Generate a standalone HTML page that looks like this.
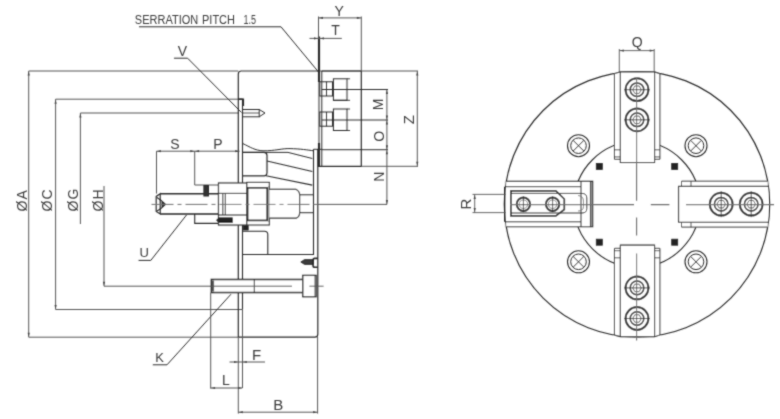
<!DOCTYPE html>
<html><head><meta charset="utf-8">
<style>
html,body{margin:0;padding:0;background:#fff;width:780px;height:419px;overflow:hidden}
svg{display:block} .wrap{width:780px;height:419px}
text{font-family:"Liberation Sans",sans-serif}
</style></head><body><div class="wrap">
<svg width="780" height="419" viewBox="0 0 780 419">
<defs><filter id="bl" x="0" y="0" width="780" height="419" filterUnits="userSpaceOnUse"><feConvolveMatrix order="3" kernelMatrix="0.03 0.1 0.03 0.1 0.48 0.1 0.03 0.1 0.03" edgeMode="none" preserveAlpha="false"/></filter></defs>
<g filter="url(#bl)">
<path d="M28.7,337.2 V71 H238.3" stroke="#555" stroke-width="1" fill="none" />
<path d="M28.7,337.2 H238.3" stroke="#555" stroke-width="1" fill="none" />
<path d="M55.6,309.5 V99.2 H242.5" stroke="#555" stroke-width="1" fill="none" />
<path d="M55.6,309.5 H242.5" stroke="#555" stroke-width="1" fill="none" />
<path d="M80.4,224 V113 H238.3" stroke="#555" stroke-width="1" fill="none" />
<path d="M104,186 V286.2 H292" stroke="#555" stroke-width="1" fill="none" />
<text transform="translate(26.8,211.5) rotate(-90)" font-size="14" fill="#3a3a3a" letter-spacing="1">ØA</text>
<text transform="translate(52.2,211.5) rotate(-90)" font-size="14" fill="#3a3a3a" letter-spacing="1">ØC</text>
<text transform="translate(77.9,211.5) rotate(-90)" font-size="14" fill="#3a3a3a" letter-spacing="1">ØG</text>
<text transform="translate(103.2,211.5) rotate(-90)" font-size="14" fill="#3a3a3a" letter-spacing="1">ØH</text>
<text x="134.8" y="24.0" font-size="13.4" fill="#3a3a3a" textLength="63.5" lengthAdjust="spacingAndGlyphs">SERRATION</text>
<text x="202" y="24.0" font-size="13.4" fill="#3a3a3a" textLength="33" lengthAdjust="spacingAndGlyphs">PITCH</text>
<text x="243.5" y="24.0" font-size="13.4" fill="#3a3a3a" textLength="12.5" lengthAdjust="spacingAndGlyphs">1.5</text>
<path d="M139,26.8 H281 L318.5,72" stroke="#2a2a2a" stroke-width="1" fill="none" />
<text x="177.8" y="55.8" font-size="14" fill="#3a3a3a" >V</text>
<path d="M174,58.2 H187.6 L241.5,112.5" stroke="#2a2a2a" stroke-width="1" fill="none" />
<text x="139.5" y="256.5" font-size="13" fill="#3a3a3a" >U</text>
<path d="M138.6,260.4 H150.8 L186.5,215" stroke="#2a2a2a" stroke-width="1" fill="none" />
<text x="155.2" y="362.2" font-size="13" fill="#3a3a3a" >K</text>
<path d="M152.8,364.8 H167 L231,294.2" stroke="#2a2a2a" stroke-width="1" fill="none" />
<path d="M238.3,337.2 V74 Q238.3,71 241.3,71 H318.5" stroke="#2a2a2a" stroke-width="1.2" fill="none" />
<path d="M318.5,71 H418" stroke="#555" stroke-width="1" fill="none" />
<path d="M238.3,337.2 H314.8 Q317.8,337.2 317.8,334.2 V149" stroke="#2a2a2a" stroke-width="1.2" fill="none" />
<path d="M238.3,99.2 H242.5 V309.5" stroke="#2a2a2a" stroke-width="1.1" fill="none" />
<path d="M313.5,149.3 V254.5 H242.5" stroke="#2a2a2a" stroke-width="1.1" fill="none" />
<path d="M313.5,149.3 H321.8" stroke="#2a2a2a" stroke-width="1.0" fill="none" />
<line x1="319" y1="36.5" x2="319" y2="82" stroke="#2a2a2a" stroke-width="2.2" />
<line x1="319" y1="143" x2="319" y2="167" stroke="#2a2a2a" stroke-width="2.2" />
<line x1="321.8" y1="71" x2="321.8" y2="166.3" stroke="#2a2a2a" stroke-width="1.0" />
<line x1="319" y1="82" x2="319" y2="143" stroke="#2a2a2a" stroke-width="1.0" />
<path d="M321.8,71 H361.3 V166.3 H320" stroke="#2a2a2a" stroke-width="1.2" fill="none" />
<path d="M361.3,166.3 H418" stroke="#555" stroke-width="1" fill="none" />
<line x1="321.8" y1="89.5" x2="388" y2="89.5" stroke="#2a2a2a" stroke-width="1" />
<line x1="321.8" y1="120" x2="388" y2="120" stroke="#2a2a2a" stroke-width="1" />
<line x1="321.8" y1="149.7" x2="388" y2="149.7" stroke="#2a2a2a" stroke-width="1" />
<rect x="319.8" y="81.8" width="12.7" height="14.2" rx="0" stroke="#2a2a2a" stroke-width="1" fill="none"/>
<line x1="326.5" y1="81.8" x2="326.5" y2="96" stroke="#2a2a2a" stroke-width="0.9" />
<rect x="333.4" y="78.8" width="13.6" height="21.5" rx="0" stroke="#2a2a2a" stroke-width="1" fill="none"/>
<line x1="347" y1="78.8" x2="350" y2="78.8" stroke="#2a2a2a" stroke-width="0.9" />
<line x1="333.4" y1="100.3" x2="350" y2="100.3" stroke="#2a2a2a" stroke-width="0.9" />
<rect x="319.8" y="112.0" width="12.7" height="14.2" rx="0" stroke="#2a2a2a" stroke-width="1" fill="none"/>
<line x1="326.5" y1="112.0" x2="326.5" y2="126.2" stroke="#2a2a2a" stroke-width="0.9" />
<rect x="333.4" y="109.0" width="13.6" height="21.5" rx="0" stroke="#2a2a2a" stroke-width="1" fill="none"/>
<line x1="347" y1="109.0" x2="350" y2="109.0" stroke="#2a2a2a" stroke-width="0.9" />
<line x1="333.4" y1="130.5" x2="350" y2="130.5" stroke="#2a2a2a" stroke-width="0.9" />
<line x1="318.5" y1="16.5" x2="318.5" y2="38.5" stroke="#555" stroke-width="1" />
<line x1="361.3" y1="16.5" x2="361.3" y2="71" stroke="#555" stroke-width="1" />
<line x1="318.5" y1="17.9" x2="361.3" y2="17.9" stroke="#555" stroke-width="1" />
<text x="334.4" y="15.5" font-size="14" fill="#3a3a3a" >Y</text>
<line x1="309.5" y1="38.4" x2="341.8" y2="38.4" stroke="#555" stroke-width="1" />
<text x="331.2" y="35.3" font-size="14" fill="#3a3a3a" >T</text>
<line x1="417.3" y1="71" x2="417.3" y2="166.3" stroke="#555" stroke-width="1" />
<text transform="translate(414.3,124.3) rotate(-90)" font-size="15" fill="#3a3a3a" >Z</text>
<line x1="386.9" y1="89.5" x2="386.9" y2="204.4" stroke="#555" stroke-width="1" />
<text transform="translate(383,110.3) rotate(-90)" font-size="14" fill="#3a3a3a" >M</text>
<text transform="translate(384,141.8) rotate(-90)" font-size="14" fill="#3a3a3a" >O</text>
<text transform="translate(384,181.8) rotate(-90)" font-size="14" fill="#3a3a3a" >N</text>
<line x1="318" y1="204.4" x2="387" y2="204.4" stroke="#555" stroke-width="1" />
<line x1="156.5" y1="151.2" x2="239.6" y2="151.2" stroke="#555" stroke-width="1" />
<line x1="156.5" y1="151.2" x2="156.5" y2="193.6" stroke="#555" stroke-width="1" />
<path d="M194.7,151.2 V185 H218.8" stroke="#555" stroke-width="1" fill="none" />
<text x="170.3" y="148.6" font-size="14" fill="#3a3a3a" >S</text>
<text x="213.3" y="148.6" font-size="14" fill="#3a3a3a" >P</text>
<path d="M242.9,143.6 C250,147 255,150.5 263,150.8 C275,151 282,148.3 290,148.6 C300,148.8 308,150 313.5,150.8" stroke="#2a2a2a" stroke-width="1" fill="none" />
<path d="M242.5,152.4 H288 L312.3,158.5" stroke="#2a2a2a" stroke-width="1" fill="none" />
<path d="M242.5,152.4 H264 Q267,152.4 267,155.5 V172.5 Q267,175.8 264,175.8 H242.5" stroke="#2a2a2a" stroke-width="1.2" fill="none" />
<line x1="267" y1="161" x2="312.3" y2="171.5" stroke="#2a2a2a" stroke-width="1.1" />
<line x1="266" y1="175.8" x2="312.3" y2="185.1" stroke="#2a2a2a" stroke-width="1.1" />
<path d="M242.5,231.2 H264.5 Q267.8,231.2 267.8,234.5 V254.5" stroke="#2a2a2a" stroke-width="1.1" fill="none" />
<path d="M160.2,193.7 H219.5 M160.2,214 H219.5" stroke="#2a2a2a" stroke-width="1.5" fill="none" />
<path d="M160.2,193.7 L156.2,196.4 V211.5 L160.2,214 Z" stroke="#2a2a2a" stroke-width="1.2" fill="none" />
<path d="M157,197.5 Q161,200 165.5,204.4 Q161,209 157,211" stroke="#2a2a2a" stroke-width="1.1" fill="none" />
<path d="M162,202 L165,204.4 L162,206.8 Z" stroke="#2a2a2a" stroke-width="1" fill="#222"/>
<path d="M194.7,214 V223.4 H218.5" stroke="#2a2a2a" stroke-width="1.1" fill="none" />
<rect x="203.9" y="185.5" width="4.6" height="10.5" rx="0" stroke="#2a2a2a" stroke-width="1" fill="#333"/>
<rect x="218.5" y="183" width="28.3" height="42" rx="0" stroke="#2a2a2a" stroke-width="1.2" fill="#fff"/>
<line x1="218.5" y1="193.4" x2="246.8" y2="193.4" stroke="#2a2a2a" stroke-width="1.1" />
<line x1="218.5" y1="215" x2="246.8" y2="215" stroke="#2a2a2a" stroke-width="1.1" />
<line x1="222.8" y1="193.4" x2="222.8" y2="215" stroke="#2a2a2a" stroke-width="1" />
<line x1="225.3" y1="193.4" x2="225.3" y2="215" stroke="#2a2a2a" stroke-width="1" />
<rect x="246.8" y="182.4" width="22.5" height="42.6" rx="0" stroke="#2a2a2a" stroke-width="1.1" fill="#fff"/>
<rect x="247.6" y="187.8" width="19.6" height="32.6" rx="0" stroke="#2a2a2a" stroke-width="1.7" fill="none"/>
<line x1="268.5" y1="186" x2="268.5" y2="222" stroke="#999" stroke-width="1.0" />
<rect x="243.2" y="225.5" width="5" height="4.5" rx="0" stroke="#2a2a2a" stroke-width="0.8" fill="#222"/>
<path d="M216.6,220.2 L219,217.8 H232.4 V222.5 H219 Z" stroke="#2a2a2a" stroke-width="1" fill="#222"/>
<path d="M269.3,189.4 H296 Q299.6,191 299.6,195 V212.5 Q299.6,217 296,218.1 H269.3" stroke="#2a2a2a" stroke-width="1.1" fill="#fff"/>
<path d="M299.6,194.8 H313.5 M299.6,212.7 H313.5" stroke="#2a2a2a" stroke-width="1" fill="none" />
<line x1="151.5" y1="204.4" x2="318" y2="204.4" stroke="#707070" stroke-width="1.0" stroke-dasharray="22,4,4,4"/>
<path d="M300.8,262 L304.5,259.6 H313.3 V264.4 H304.5 Z" stroke="#2a2a2a" stroke-width="0.8" fill="#3a3a3a"/>
<path d="M317.8,258.4 H314.8 Q313,258.4 313,260.5 V265.2 Q313,267.3 314.8,267.3 H317.8" stroke="#2a2a2a" stroke-width="1.6" fill="none" />
<rect x="211.4" y="279.5" width="91.4" height="13" rx="0" stroke="#2a2a2a" stroke-width="1.5" fill="#fff"/>
<line x1="213" y1="280.5" x2="213" y2="291.5" stroke="#555" stroke-width="2.2" />
<line x1="254.3" y1="279.7" x2="254.3" y2="292.6" stroke="#2a2a2a" stroke-width="1" />
<rect x="302.8" y="275.4" width="13.3" height="21.3" rx="0" stroke="#2a2a2a" stroke-width="1.3" fill="#fff"/>
<line x1="315" y1="276" x2="315" y2="296" stroke="#2a2a2a" stroke-width="0.8" />
<line x1="211" y1="286.2" x2="292" y2="286.2" stroke="#555" stroke-width="1" />
<line x1="309.4" y1="286.2" x2="323.6" y2="286.2" stroke="#555" stroke-width="0.9" />
<line x1="242.5" y1="309.5" x2="242.5" y2="388" stroke="#555" stroke-width="1" />
<line x1="238.3" y1="337" x2="238.3" y2="413.6" stroke="#555" stroke-width="1" />
<line x1="317.6" y1="337" x2="317.6" y2="413.6" stroke="#555" stroke-width="1" />
<line x1="229.5" y1="362" x2="265" y2="362" stroke="#555" stroke-width="1" />
<text x="252" y="359.8" font-size="15" fill="#3a3a3a" >F</text>
<line x1="210.7" y1="292.6" x2="210.7" y2="388.6" stroke="#555" stroke-width="1" />
<line x1="210.7" y1="388" x2="242.3" y2="388" stroke="#555" stroke-width="1" />
<text x="222" y="385.4" font-size="14" fill="#3a3a3a" >L</text>
<line x1="238.3" y1="412.2" x2="317.6" y2="412.2" stroke="#555" stroke-width="1" />
<text x="273.2" y="410.4" font-size="15" fill="#3a3a3a" >B</text>
<path d="M238.3,99.2 H243.5 V106" stroke="#2a2a2a" stroke-width="1.2" fill="none" />
<rect x="242.5" y="109.5" width="16.7" height="7.3" rx="0" stroke="#2a2a2a" stroke-width="1" fill="none"/>
<line x1="242.5" y1="113" x2="259" y2="113" stroke="#2a2a2a" stroke-width="0.8" />
<path d="M259.2,109.5 L265,113 L259.2,116.8" stroke="#2a2a2a" stroke-width="1" fill="none" />
<circle cx="637.0" cy="204.3" r="132.7" stroke="#2a2a2a" stroke-width="1.2" fill="none"/>
<circle cx="637.0" cy="204.3" r="63" stroke="#2a2a2a" stroke-width="1.1" fill="none"/>
<rect x="596.3" y="163.4" width="6" height="6" rx="0" stroke="#2a2a2a" stroke-width="0.8" fill="#222"/>
<rect x="596.3" y="239.20000000000002" width="6" height="6" rx="0" stroke="#2a2a2a" stroke-width="0.8" fill="#222"/>
<rect x="671.7" y="163.4" width="6" height="6" rx="0" stroke="#2a2a2a" stroke-width="0.8" fill="#222"/>
<rect x="671.7" y="239.20000000000002" width="6" height="6" rx="0" stroke="#2a2a2a" stroke-width="0.8" fill="#222"/>
<circle cx="578.5" cy="145.70000000000002" r="11" stroke="#2a2a2a" stroke-width="1.1" fill="none"/>
<circle cx="578.5" cy="145.70000000000002" r="7.8" stroke="#2a2a2a" stroke-width="1.0" fill="none"/>
<line x1="573.2" y1="140.4" x2="583.8" y2="151.00000000000003" stroke="#2a2a2a" stroke-width="0.9" />
<line x1="573.2" y1="151.00000000000003" x2="583.8" y2="140.4" stroke="#2a2a2a" stroke-width="0.9" />
<circle cx="578.5" cy="261.8" r="11" stroke="#2a2a2a" stroke-width="1.1" fill="none"/>
<circle cx="578.5" cy="261.8" r="7.8" stroke="#2a2a2a" stroke-width="1.0" fill="none"/>
<line x1="573.2" y1="256.5" x2="583.8" y2="267.1" stroke="#2a2a2a" stroke-width="0.9" />
<line x1="573.2" y1="267.1" x2="583.8" y2="256.5" stroke="#2a2a2a" stroke-width="0.9" />
<circle cx="696.0" cy="145.70000000000002" r="11" stroke="#2a2a2a" stroke-width="1.1" fill="none"/>
<circle cx="696.0" cy="145.70000000000002" r="7.8" stroke="#2a2a2a" stroke-width="1.0" fill="none"/>
<line x1="690.7" y1="140.4" x2="701.3" y2="151.00000000000003" stroke="#2a2a2a" stroke-width="0.9" />
<line x1="690.7" y1="151.00000000000003" x2="701.3" y2="140.4" stroke="#2a2a2a" stroke-width="0.9" />
<circle cx="696.0" cy="261.8" r="11" stroke="#2a2a2a" stroke-width="1.1" fill="none"/>
<circle cx="696.0" cy="261.8" r="7.8" stroke="#2a2a2a" stroke-width="1.0" fill="none"/>
<line x1="690.7" y1="256.5" x2="701.3" y2="267.1" stroke="#2a2a2a" stroke-width="0.9" />
<line x1="690.7" y1="267.1" x2="701.3" y2="256.5" stroke="#2a2a2a" stroke-width="0.9" />
<rect x="614.5" y="71.60000000000002" width="45.39999999999998" height="90.89999999999998" fill="#fff" stroke="none"/>
<path d="M614.5,73.52140847982804 V159.3 H620.3" stroke="#2a2a2a" stroke-width="1.0" fill="none" />
<path d="M659.9,73.5908572440321 V159.3 H654.6" stroke="#2a2a2a" stroke-width="1.0" fill="none" />
<path d="M620.3,71.9 V162.5 H654.6 V71.9" stroke="#2a2a2a" stroke-width="1.1" fill="none" />
<path d="M614.5,73.52140847982804 L620.3,71.9 H654.6 L659.9,73.5908572440321" stroke="#2a2a2a" stroke-width="1.2" fill="none" />
<line x1="614.5" y1="149.8" x2="620.3" y2="149.8" stroke="#2a2a2a" stroke-width="0.8" />
<line x1="654.6" y1="149.8" x2="659.9" y2="149.8" stroke="#2a2a2a" stroke-width="0.8" />
<line x1="614.5" y1="156.9" x2="620.3" y2="156.9" stroke="#2a2a2a" stroke-width="0.8" />
<line x1="654.6" y1="156.9" x2="659.9" y2="156.9" stroke="#2a2a2a" stroke-width="0.8" />
<rect x="614.5" y="245.10000000000002" width="45.39999999999998" height="91.89999999999998" fill="#fff" stroke="none"/>
<path d="M614.5,335.078591520172 V248.3 H620.3" stroke="#2a2a2a" stroke-width="1.0" fill="none" />
<path d="M659.9,335.0091427559679 V248.3 H654.6" stroke="#2a2a2a" stroke-width="1.0" fill="none" />
<path d="M620.3,336.70000000000005 V245.10000000000002 H654.6 V336.70000000000005" stroke="#2a2a2a" stroke-width="1.1" fill="none" />
<path d="M614.5,335.078591520172 L620.3,336.70000000000005 H654.6 L659.9,335.0091427559679" stroke="#2a2a2a" stroke-width="1.2" fill="none" />
<line x1="614.5" y1="257.8" x2="620.3" y2="257.8" stroke="#2a2a2a" stroke-width="0.8" />
<line x1="654.6" y1="257.8" x2="659.9" y2="257.8" stroke="#2a2a2a" stroke-width="0.8" />
<line x1="614.5" y1="250.70000000000002" x2="620.3" y2="250.70000000000002" stroke="#2a2a2a" stroke-width="0.8" />
<line x1="654.6" y1="250.70000000000002" x2="659.9" y2="250.70000000000002" stroke="#2a2a2a" stroke-width="0.8" />
<circle cx="637.0" cy="89.7" r="11.4" stroke="#2a2a2a" stroke-width="2.0" fill="none"/>
<circle cx="637.0" cy="89.7" r="6.8" stroke="#2a2a2a" stroke-width="1.5" fill="none"/>
<polygon points="641.30,89.70 639.15,93.42 634.85,93.42 632.70,89.70 634.85,85.98 639.15,85.98" fill="none" stroke="#555" stroke-width="0.9"/>
<circle cx="637.0" cy="119.8" r="11.4" stroke="#2a2a2a" stroke-width="2.0" fill="none"/>
<circle cx="637.0" cy="119.8" r="6.8" stroke="#2a2a2a" stroke-width="1.5" fill="none"/>
<polygon points="641.30,119.80 639.15,123.52 634.85,123.52 632.70,119.80 634.85,116.08 639.15,116.08" fill="none" stroke="#555" stroke-width="0.9"/>
<circle cx="637.0" cy="287.9" r="11.4" stroke="#2a2a2a" stroke-width="2.0" fill="none"/>
<circle cx="637.0" cy="287.9" r="6.8" stroke="#2a2a2a" stroke-width="1.5" fill="none"/>
<polygon points="641.30,287.90 639.15,291.62 634.85,291.62 632.70,287.90 634.85,284.18 639.15,284.18" fill="none" stroke="#555" stroke-width="0.9"/>
<circle cx="637.0" cy="318.5" r="11.4" stroke="#2a2a2a" stroke-width="2.0" fill="none"/>
<circle cx="637.0" cy="318.5" r="6.8" stroke="#2a2a2a" stroke-width="1.5" fill="none"/>
<polygon points="641.30,318.50 639.15,322.22 634.85,322.22 632.70,318.50 634.85,314.78 639.15,314.78" fill="none" stroke="#555" stroke-width="0.9"/>
<rect x="678" y="181.2" width="89.6739453755032" height="45.900000000000006" fill="#fff" stroke="none"/>
<path d="M767.6739453755032,181.2 H681.5 V186.4" stroke="#2a2a2a" stroke-width="1.0" fill="none" />
<path d="M767.726623149227,227.1 H681.5 V222.3" stroke="#2a2a2a" stroke-width="1.0" fill="none" />
<path d="M768.4871856874273,186.4 H678.6 V222.3 H768.4735334582592" stroke="#2a2a2a" stroke-width="1.1" fill="none" />
<line x1="691" y1="181.2" x2="691" y2="186.4" stroke="#2a2a2a" stroke-width="0.8" />
<line x1="691" y1="222.3" x2="691" y2="227.1" stroke="#2a2a2a" stroke-width="0.8" />
<circle cx="721.2" cy="204.2" r="11.4" stroke="#2a2a2a" stroke-width="2.0" fill="none"/>
<circle cx="721.2" cy="204.2" r="6.8" stroke="#2a2a2a" stroke-width="1.5" fill="none"/>
<polygon points="725.50,204.20 723.35,207.92 719.05,207.92 716.90,204.20 719.05,200.48 723.35,200.48" fill="none" stroke="#555" stroke-width="0.9"/>
<circle cx="751.2" cy="204.2" r="11.4" stroke="#2a2a2a" stroke-width="2.0" fill="none"/>
<circle cx="751.2" cy="204.2" r="6.8" stroke="#2a2a2a" stroke-width="1.5" fill="none"/>
<polygon points="755.50,204.20 753.35,207.92 749.05,207.92 746.90,204.20 749.05,200.48 753.35,200.48" fill="none" stroke="#555" stroke-width="0.9"/>
<rect x="506.29085724403205" y="181.4" width="86.40914275596799" height="45.400000000000006" fill="#fff" stroke="none"/>
<path d="M506.29085724403205,181.4 H592.7 V226.8 H506.221408479828" stroke="#2a2a2a" stroke-width="1.1" fill="none" />
<line x1="590.7" y1="181.4" x2="590.7" y2="226.8" stroke="#2a2a2a" stroke-width="1.6" />
<line x1="581" y1="181.4" x2="581" y2="226.8" stroke="#2a2a2a" stroke-width="1.0" />
<line x1="505.472322304391" y1="186.7" x2="581" y2="186.7" stroke="#2a2a2a" stroke-width="1.0" />
<line x1="505.4589797819707" y1="221.8" x2="581" y2="221.8" stroke="#2a2a2a" stroke-width="1.0" />
<line x1="504.8" y1="186.7" x2="504.8" y2="221.8" stroke="#2a2a2a" stroke-width="1.5" />
<path d="M510.9,193.4 H582 Q586.8,193.4 586.8,198 V208.5 Q586.8,213 582,213 H510.9" stroke="#2a2a2a" stroke-width="1.0" fill="none" />
<path d="M578,195.5 Q583.5,196 583.5,201 V206.5 Q583.5,211 578,211" stroke="#666" stroke-width="0.8" fill="none" />
<path d="M510.9,190.9 H555.9 L564.3,199 V209.5 L555.9,215.9 H510.9 Z" stroke="#2a2a2a" stroke-width="1.7" fill="none" />
<circle cx="523.4" cy="204.2" r="6.7" stroke="#2a2a2a" stroke-width="2.0" fill="none"/>
<circle cx="552.6" cy="204.2" r="6.7" stroke="#2a2a2a" stroke-width="2.0" fill="none"/>
<circle cx="523.4" cy="204.2" r="4.3" stroke="#777" stroke-width="0.8" fill="none"/>
<circle cx="552.6" cy="204.2" r="4.3" stroke="#777" stroke-width="0.8" fill="none"/>
<line x1="472.5" y1="194.4" x2="506" y2="194.4" stroke="#555" stroke-width="0.9" />
<line x1="472.5" y1="212.6" x2="506" y2="212.6" stroke="#555" stroke-width="0.9" />
<line x1="474.7" y1="194.4" x2="474.7" y2="212.6" stroke="#555" stroke-width="0.9" />
<text transform="translate(471.3,209.5) rotate(-90)" font-size="15" fill="#3a3a3a" >R</text>
<path d="M510,204.6 H634 M650.8,204.6 H669.4 M686,204.6 H774" stroke="#707070" stroke-width="1.1" fill="none" />
<path d="M636.6,77 V200.7 M636.6,217.6 V235.5 M636.6,253.6 V340.5" stroke="#707070" stroke-width="1.1" fill="none" />
<line x1="624.0" y1="89.7" x2="650.0" y2="89.7" stroke="#2a2a2a" stroke-width="0.8" />
<line x1="624.0" y1="119.8" x2="650.0" y2="119.8" stroke="#2a2a2a" stroke-width="0.8" />
<line x1="624.0" y1="287.9" x2="650.0" y2="287.9" stroke="#2a2a2a" stroke-width="0.8" />
<line x1="624.0" y1="318.5" x2="650.0" y2="318.5" stroke="#2a2a2a" stroke-width="0.8" />
<line x1="721.2" y1="191.2" x2="721.2" y2="217.2" stroke="#2a2a2a" stroke-width="0.8" />
<line x1="751.2" y1="191.2" x2="751.2" y2="217.2" stroke="#2a2a2a" stroke-width="0.8" />
<line x1="523.4" y1="196.2" x2="523.4" y2="212.2" stroke="#2a2a2a" stroke-width="0.8" />
<line x1="552.6" y1="196.2" x2="552.6" y2="212.2" stroke="#2a2a2a" stroke-width="0.8" />
<line x1="619.3" y1="49" x2="619.3" y2="72" stroke="#555" stroke-width="0.9" />
<line x1="654.2" y1="49" x2="654.2" y2="72" stroke="#555" stroke-width="0.9" />
<line x1="619.3" y1="50.6" x2="654.2" y2="50.6" stroke="#555" stroke-width="0.9" />
<text x="631.8" y="47.4" font-size="14" fill="#3a3a3a" >Q</text>
<polygon points="28.70,71.50 27.60,75.50 29.80,75.50" fill="#444" stroke="none"/>
<polygon points="28.70,336.70 27.60,332.70 29.80,332.70" fill="#444" stroke="none"/>
<polygon points="55.60,99.70 54.50,103.70 56.70,103.70" fill="#444" stroke="none"/>
<polygon points="55.60,309.00 54.50,305.00 56.70,305.00" fill="#444" stroke="none"/>
<polygon points="80.40,113.50 79.30,117.50 81.50,117.50" fill="#444" stroke="none"/>
<polygon points="104.00,285.70 102.90,281.70 105.10,281.70" fill="#444" stroke="none"/>
<polygon points="319.00,17.90 323.00,16.80 323.00,19.00" fill="#444" stroke="none"/>
<polygon points="360.80,17.90 356.80,16.80 356.80,19.00" fill="#444" stroke="none"/>
<polygon points="156.90,151.20 160.90,150.10 160.90,152.30" fill="#444" stroke="none"/>
<polygon points="194.30,151.20 190.30,150.10 190.30,152.30" fill="#444" stroke="none"/>
<polygon points="195.10,151.20 199.10,150.10 199.10,152.30" fill="#444" stroke="none"/>
<polygon points="239.20,151.20 235.20,150.10 235.20,152.30" fill="#444" stroke="none"/>
<polygon points="386.90,90.00 385.80,94.00 388.00,94.00" fill="#444" stroke="none"/>
<polygon points="386.90,119.50 385.80,115.50 388.00,115.50" fill="#444" stroke="none"/>
<polygon points="386.90,120.50 385.80,124.50 388.00,124.50" fill="#444" stroke="none"/>
<polygon points="386.90,149.20 385.80,145.20 388.00,145.20" fill="#444" stroke="none"/>
<polygon points="386.90,150.20 385.80,154.20 388.00,154.20" fill="#444" stroke="none"/>
<polygon points="386.90,203.90 385.80,199.90 388.00,199.90" fill="#444" stroke="none"/>
<polygon points="417.30,71.50 416.20,75.50 418.40,75.50" fill="#444" stroke="none"/>
<polygon points="417.30,165.80 416.20,161.80 418.40,161.80" fill="#444" stroke="none"/>
<polygon points="238.00,362.00 234.00,360.90 234.00,363.10" fill="#444" stroke="none"/>
<polygon points="242.80,362.00 246.80,360.90 246.80,363.10" fill="#444" stroke="none"/>
<polygon points="211.10,388.00 215.10,386.90 215.10,389.10" fill="#444" stroke="none"/>
<polygon points="242.10,388.00 238.10,386.90 238.10,389.10" fill="#444" stroke="none"/>
<polygon points="238.80,412.20 242.80,411.10 242.80,413.30" fill="#444" stroke="none"/>
<polygon points="317.10,412.20 313.10,411.10 313.10,413.30" fill="#444" stroke="none"/>
<polygon points="619.80,50.60 623.80,49.50 623.80,51.70" fill="#444" stroke="none"/>
<polygon points="653.70,50.60 649.70,49.50 649.70,51.70" fill="#444" stroke="none"/>
<polygon points="474.70,194.90 473.60,198.90 475.80,198.90" fill="#444" stroke="none"/>
<polygon points="474.70,212.10 473.60,208.10 475.80,208.10" fill="#444" stroke="none"/>
<polygon points="318.00,38.40 314.00,37.30 314.00,39.50" fill="#444" stroke="none"/>
<polygon points="320.00,38.40 324.00,37.30 324.00,39.50" fill="#444" stroke="none"/>
</g>
</svg></div>
</body></html>
